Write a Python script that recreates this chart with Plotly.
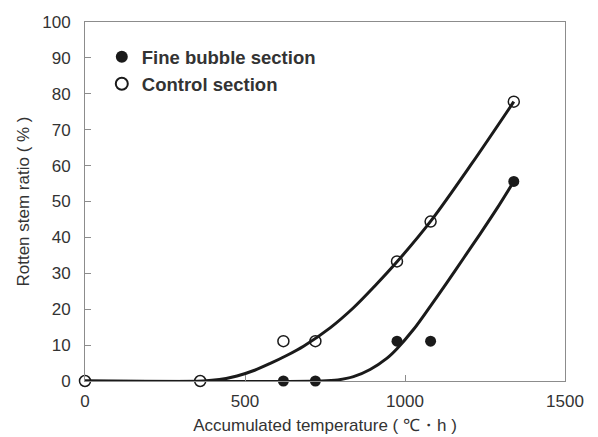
import plotly.graph_objects as go

# Observed data
fine_x = [0, 360, 620, 720, 975, 1080, 1340]
fine_y = [0, 0, 0, 0, 11.1, 11.1, 55.6]
ctrl_x = [0, 360, 620, 720, 975, 1080, 1340]
ctrl_y = [0, 0, 11.1, 11.1, 33.3, 44.4, 77.8]

# Fitted curves
fine_curve_x = [0, 740, 790, 839, 891, 943, 975, 1027, 1079, 1131, 1183, 1235, 1287, 1340]
fine_curve_y = [0, 0, 0.3, 1.2, 3.2, 6.3, 9.0, 14.4, 20.8, 27.4, 34.2, 41.0, 48.0, 55.6]
ctrl_curve_x = [0, 370, 420, 475, 530, 579, 630, 683, 766, 839, 905, 975, 1081, 1209, 1340]
ctrl_curve_y = [0, 0, 0.4, 1.4, 3.0, 4.9, 7.1, 9.7, 14.8, 20.4, 26.4, 33.2, 44.6, 60.6, 77.8]

x_ticks = [0, 500, 1000, 1500]
y_ticks = [0, 10, 20, 30, 40, 50, 60, 70, 80, 90, 100]

FONT = "Liberation Sans, Arial, sans-serif"
TXT = "#333333"
LINE = "#1a1a1a"
FRAME = "#8c8c8c"

fig = go.Figure()

fig.add_trace(go.Scatter(x=fine_x, y=fine_y, mode="markers", name="<b>Fine bubble section</b>",
                         marker=dict(symbol="circle", size=11, color=LINE, line=dict(width=0)),
                         cliponaxis=False))
fig.add_trace(go.Scatter(x=ctrl_x, y=ctrl_y, mode="markers", name="<b>Control section</b>",
                         marker=dict(symbol="circle", size=11, color="white", line=dict(width=1.5, color=LINE)),
                         cliponaxis=False))
fig.add_trace(go.Scatter(x=fine_curve_x, y=fine_curve_y, mode="lines", showlegend=False,
                         line=dict(color=LINE, width=3, shape="spline", smoothing=0.9), cliponaxis=False))
fig.add_trace(go.Scatter(x=ctrl_curve_x, y=ctrl_curve_y, mode="lines", showlegend=False,
                         line=dict(color=LINE, width=3, shape="spline", smoothing=0.9), cliponaxis=False))

fig.update_layout(
    width=598, height=437,
    margin=dict(l=85, r=33, t=22, b=56),
    paper_bgcolor="white", plot_bgcolor="white",
    font=dict(family=FONT, size=17, color=TXT),
    legend=dict(x=0.035, y=0.955, xanchor="left", yanchor="top", bgcolor="rgba(0,0,0,0)",
                font=dict(family=FONT, size=18.5, color=TXT), tracegroupgap=0, itemsizing="constant"),
    xaxis=dict(range=[0, 1500], tickvals=x_ticks, ticks="inside", ticklen=6, tickcolor=FRAME,
               showgrid=False, zeroline=False, showline=True, linecolor=FRAME, linewidth=1, mirror=True,
               tickfont=dict(size=17, color=TXT), ticklabelstandoff=5, automargin=False,
               title=dict(text="Accumulated temperature ( ℃・h )", font=dict(size=17, color=TXT), standoff=8)),
    yaxis=dict(range=[0, 100], tickvals=y_ticks, ticks="inside", ticklen=6, tickcolor=FRAME,
               showgrid=False, zeroline=False, showline=True, linecolor=FRAME, linewidth=1, mirror=True,
               tickfont=dict(size=17, color=TXT), ticklabelstandoff=10, automargin=False,
               title=dict(text="Rotten stem ratio ( % )", font=dict(size=17, color=TXT), standoff=8)),
)

fig.write_html("out.html")
